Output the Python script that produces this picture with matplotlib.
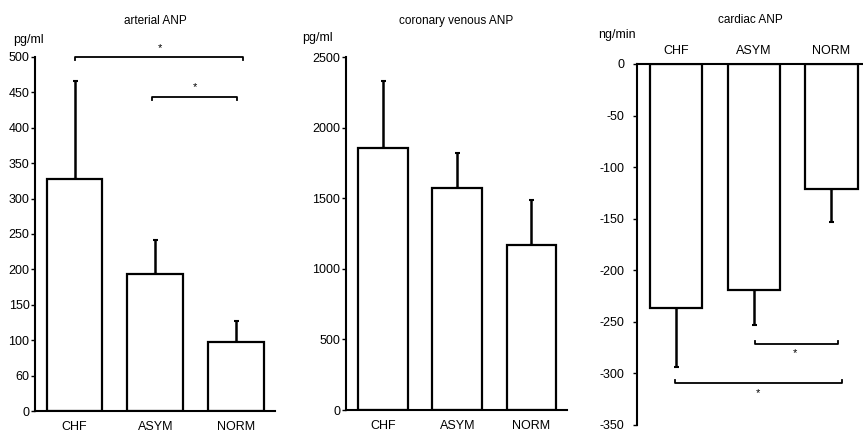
import numpy as np
import matplotlib
matplotlib.use('Agg')
import matplotlib.pyplot as plt

plt.rcParams['font.family'] = ['Liberation Sans', 'DejaVu Sans']

# 資料
groups = ['CHF', 'ASYM', 'NORM']
arterial = [327, 194, 97]
arterial_err = [139, 47, 30]
arterial_ticks = [0, 50, 100, 150, 200, 250, 300, 350, 400, 450, 500]
arterial_ticklabels = ['0', '60', '100', '150', '200', '250', '300', '350', '400', '450', '500']
coronary = [1858, 1570, 1168]
coronary_err = [472, 248, 319]
coronary_ticks = [0, 500, 1000, 1500, 2000, 2500]
cardiac = [-237, -219, -121]
cardiac_err = [57, 34, 32]
cardiac_ticks = [0, -50, -100, -150, -200, -250, -300, -350]


def bar_panel(ax, vals, errs, width, down=False):
    x = np.arange(len(vals))
    ax.bar(x, vals, width=width, color='white', edgecolor='black', linewidth=1.6, zorder=2)
    if down:
        yerr = [errs, [0] * len(errs)]
    else:
        yerr = [[0] * len(errs), errs]
    ax.errorbar(x, vals, yerr=yerr, fmt='none', ecolor='black', elinewidth=1.8,
                capsize=1.8, capthick=1.5, zorder=1)
    ax.set_xticks(x)
    ax.set_xticklabels(groups, fontsize=9)
    ax.tick_params(axis='x', length=0, pad=7)
    ax.tick_params(axis='y', length=3, width=1, pad=1, labelsize=9)
    for s in ax.spines.values():
        s.set_linewidth(1.5)


def bracket(ax, x0, x1, y, h, star_x, star_y):
    ax.plot([x0, x0, x1, x1], [y - h, y, y, y - h], color='black', lw=1.3, clip_on=False)
    ax.text(star_x, star_y, '*', ha='center', va='center', fontsize=8, clip_on=False)


fig = plt.figure(figsize=(8.63, 4.33), dpi=100)

# 動脈 ANP
ax1 = fig.add_axes([0.0406, 0.0508, 0.2781, 0.8176])
bar_panel(ax1, arterial, arterial_err, 0.69)
ax1.set_xlim(-0.489, 2.483)
ax1.set_ylim(0, 500)
ax1.set_yticks(arterial_ticks)
ax1.set_yticklabels(arterial_ticklabels)
ax1.spines['top'].set_visible(False)
ax1.spines['right'].set_visible(False)
ax1.set_title('arterial ANP', fontsize=8.5, y=1.07)
bracket(ax1, 0.0, 2.09, 500, 4, 1.06, 513)
bracket(ax1, 0.96, 2.01, 443, 4, 1.49, 458)
fig.text(13 / 863, 1 - 40 / 433, 'pg/ml', fontsize=9, ha='left', va='center')

# 冠狀靜脈 ANP
ax2 = fig.add_axes([0.4009, 0.0531, 0.2561, 0.8152])
bar_panel(ax2, coronary, coronary_err, 0.67)
ax2.set_xlim(-0.498, 2.478)
ax2.set_ylim(0, 2500)
ax2.set_yticks(coronary_ticks)
ax2.spines['top'].set_visible(False)
ax2.spines['right'].set_visible(False)
ax2.set_title('coronary venous ANP', fontsize=8.5, y=1.07)
fig.text(302 / 863, 1 - 38 / 433, 'pg/ml', fontsize=9, ha='left', va='center')

# 心臟 ANP
ax3 = fig.add_axes([0.7381, 0.0185, 0.2619, 0.8337])
bar_panel(ax3, cardiac, cardiac_err, 0.67, down=True)
ax3.set_xlim(-0.50, 2.405)
ax3.set_ylim(-350, 0)
ax3.set_yticks(cardiac_ticks)
ax3.set_yticklabels([str(t) for t in cardiac_ticks])
ax3.xaxis.tick_top()
ax3.tick_params(axis='x', pad=5)
ax3.spines['bottom'].set_visible(False)
ax3.spines['right'].set_visible(False)
ax3.tick_params(axis='y', pad=6)
ax3.text(0.5, 1 + 41 / 361, 'cardiac ANP', transform=ax3.transAxes,
         ha='center', va='baseline', fontsize=8.5)
bracket(ax3, 1.02, 2.08, -271.5, -2.5, 1.53, -280)
bracket(ax3, -0.01, 2.13, -309, -2.5, 1.05, -319)
fig.text(598 / 863, 1 - 35 / 433, 'ng/min', fontsize=9, ha='left', va='center')

fig.savefig('out.png', dpi=100)
